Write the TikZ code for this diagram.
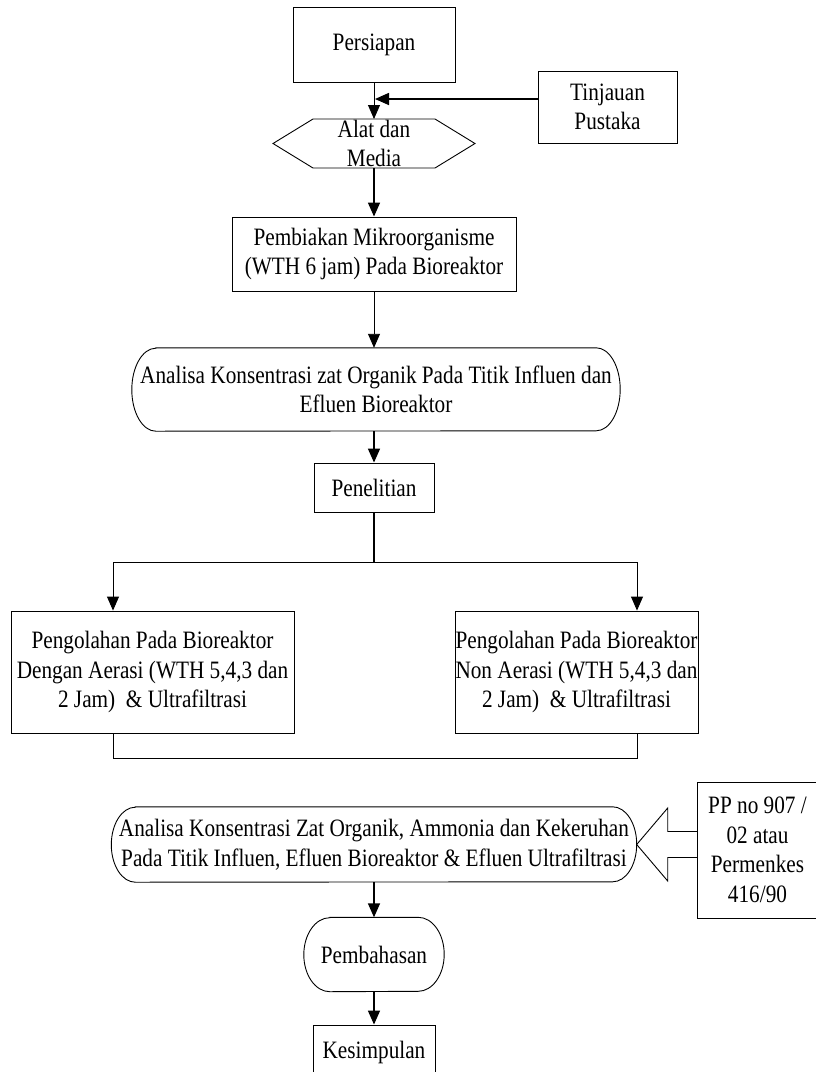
\documentclass[tikz,border=0pt]{standalone}
\usepackage{fontspec}
\setmainfont{Liberation Serif}[FakeStretch=0.85]
\usetikzlibrary{shapes,positioning,arrows.meta,calc}

\newcommand{\ujung}[3]{%
  \draw[garis] ([xshift=#2]#1.north west) -- ([xshift=-#2]#1.north east)
    arc[start angle=90, end angle=-90, x radius=#2, y radius=#3]
    -- ([xshift=#2]#1.south west)
    arc[start angle=270, end angle=90, x radius=#2, y radius=#3] -- cycle;}

\begin{document}
\begin{tikzpicture}[every node/.style={on grid},
                    kotak/.style={draw, line width=0.9pt, align=center, inner sep=0pt},
                    teks/.style={align=center, inner sep=0pt},
                    garis/.style={line width=0.9pt},
                    tebal/.style={line width=1.6pt},
                    font=\fontsize{25pt}{29.5pt}\selectfont,
                    >={Triangle[length=14pt,width=12pt]}]
    \useasboundingbox (0,0) rectangle (815pt,-1072pt);

    \node[kotak, minimum width=162pt, minimum height=75pt] (persiapan) at (374pt,-44.5pt) {Persiapan};
    \node[kotak, minimum width=139pt, minimum height=72pt, below right=62.5pt and 233.5pt of persiapan] (tinjauan) {Tinjauan\\Pustaka};
    \node[teks, below=99pt of persiapan] (alat) {Alat dan\\Media};
    \node[kotak, minimum width=284pt, minimum height=74pt, below=110.5pt of alat] (pembiakan) {Pembiakan Mikroorganisme\\(WTH 6 jam) Pada Bioreaktor};
    \node[teks, minimum width=488pt, minimum height=83pt, below=135.5pt of pembiakan, xshift=2pt] (analisa1) {Analisa Konsentrasi zat Organik Pada Titik Influen dan\\Efluen Bioreaktor};
    \node[kotak, minimum width=120pt, minimum height=49pt, below=233.5pt of pembiakan] (penelitian) {Penelitian};

    \node[kotak, minimum width=283pt, minimum height=122pt, below left=184.5pt and 221.5pt of penelitian] (olahA) {Pengolahan Pada Bioreaktor\\Dengan Aerasi (WTH 5,4,3 dan\\2 Jam)\ \ \& Ultrafiltrasi};
    \node[kotak, minimum width=243pt, minimum height=122pt, below right=184.5pt and 202.5pt of penelitian] (olahB) {Pengolahan Pada Bioreaktor\\Non Aerasi (WTH 5,4,3 dan\\2 Jam)\ \ \& Ultrafiltrasi};

    \node[teks, minimum width=525pt, minimum height=75pt, below=357pt of penelitian] (analisa2) {Analisa Konsentrasi Zat Organik, Ammonia dan Kekeruhan\\Pada Titik Influen, Efluen Bioreaktor \& Efluen Ultrafiltrasi};
    \node[kotak, minimum width=120pt, minimum height=136pt, below right=5.5pt and 383.5pt of analisa2] (pp) {PP no 907 /\\02 atau\\Permenkes\\416/90};
    \node[teks, minimum width=140pt, minimum height=74pt, below=110pt of analisa2] (pembahasan) {Pembahasan};
    \node[kotak, minimum width=122pt, minimum height=54pt, below=97.5pt of pembahasan] (kesimpulan) {Kesimpulan};

    \draw[garis] ($(alat)+(-101pt,0)$) -- ++(40pt,24.5pt) -- ++(122pt,0) -- ++(40pt,-24.5pt)
                 -- ++(-40pt,-24.5pt) -- ++(-122pt,0) -- cycle;
    \coordinate (alat-atas) at ($(alat)+(0,24.5pt)$);
    \coordinate (alat-bawah) at ($(alat)+(0,-24.5pt)$);
    \ujung{analisa1}{24pt}{41.5pt}
    \ujung{analisa2}{24pt}{37.5pt}
    \ujung{pembahasan}{26pt}{37pt}

    \coordinate[below=74.5pt of penelitian] (cabang);
    \coordinate[left=261pt of cabang] (kiri);
    \coordinate[right=263pt of cabang] (kanan);
    \coordinate[below=25pt of olahA.south] (bawah);

    \draw[->, garis] (persiapan) -- (alat-atas);
    \draw[->, tebal] ([yshift=8pt]tinjauan.west) -- ([yshift=8pt, xshift=1pt]tinjauan.west -| persiapan.south);
    \draw[->, tebal] (alat-bawah) -- (pembiakan);
    \draw[->, garis] (pembiakan) -- (pembiakan |- analisa1.north);
    \draw[->, tebal] (pembiakan |- analisa1.south) -- (penelitian);
    \draw[tebal] (penelitian) -- (cabang);
    \draw[->, garis] (cabang) -| (kiri |- olahA.north);
    \draw[->, garis] (cabang) -| (kanan |- olahB.north);
    \draw[garis] (kiri |- olahA.south) -- (kiri |- bawah) -- (kanan |- bawah) -- (kanan |- olahB.south);
    \draw[->, tebal] (analisa2) -- (pembahasan);
    \draw[->, tebal] (pembahasan) -- (kesimpulan);

    \draw[garis] ([yshift=13pt]analisa2.east -| pp.west) -- ([xshift=31pt, yshift=13pt]analisa2.east)
                 -- ([xshift=31pt, yshift=36.5pt]analisa2.east) -- (analisa2.east)
                 -- ([xshift=31pt, yshift=-36.5pt]analisa2.east) -- ([xshift=31pt, yshift=-13pt]analisa2.east)
                 -- ([yshift=-13pt]analisa2.east -| pp.west);
\end{tikzpicture}
\end{document}
